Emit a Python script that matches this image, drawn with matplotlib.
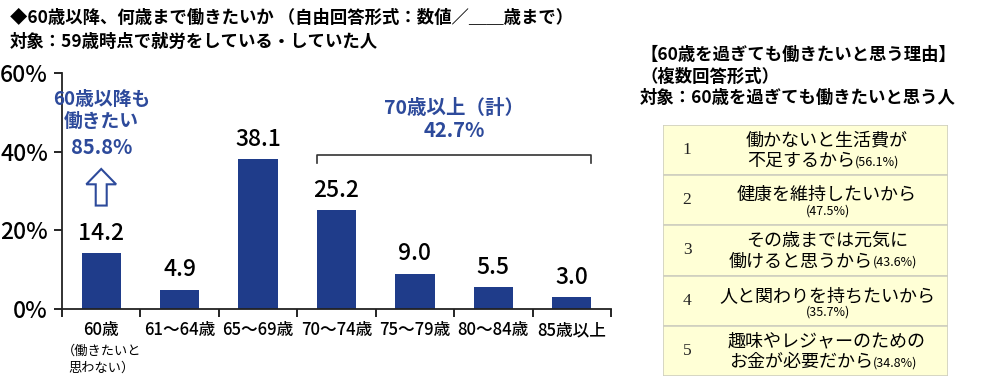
import matplotlib
matplotlib.use("Agg")
import matplotlib.pyplot as plt
from matplotlib.patches import Polygon, Rectangle
import numpy as np

plt.rcParams['font.family'] = ['Noto Sans CJK JP', 'DejaVu Sans']

# ---- data ----
categories = ["60歳", "61～64歳", "65～69歳", "70～74歳", "75～79歳", "80～84歳", "85歳以上"]
cat_sub = "（働きたいと\n思わない）"
values = [14.2, 4.9, 38.1, 25.2, 9.0, 5.5, 3.0]
yticks = [0, 20, 40, 60]
work_after60 = 85.8
over70_total = 42.7
reason_ranks = ["1", "2", "3", "4", "5"]
reason_main = [("働かないと生活費が", "不足するから"),
               ("健康を維持したいから", None),
               ("その歳までは元気に", "働けると思うから"),
               ("人と関わりを持ちたいから", None),
               ("趣味やレジャーのための", "お金が必要だから")]
reason_pct = [56.1, 47.5, 43.6, 35.7, 34.8]

BAR = "#1F3C8A"
BLUE = "#2D4A9B"
W, H = 1000, 387

fig = plt.figure(figsize=(10, 3.87), dpi=100)

def fx(px):
    return px / W

def fy(py):
    return 1 - py / H

# ---- bar chart ----
ax = fig.add_axes([fx(62), fy(309), fx(611) - fx(62), fy(73) - fy(309)])
x = np.arange(len(categories))
ax.bar(x, values, width=0.5, color=BAR)
ax.set_xlim(-0.5, len(categories) - 0.5)
ax.set_ylim(0, 60)
ax.set_yticks(yticks)
ax.set_yticklabels([f"{v}%" for v in yticks], fontsize=16.5, fontweight='medium')
ax.tick_params(axis='y', length=6, width=1.2, pad=4)
ax.set_xticks(x)
ax.set_xticklabels(categories, fontsize=12, fontweight='medium')
ax.tick_params(axis='x', which='major', length=0, pad=9)
ax.set_xticks(np.arange(-0.5, len(categories)), minor=True)
ax.tick_params(axis='x', which='minor', length=6, width=1.2)
for s in ['top', 'right']:
    ax.spines[s].set_visible(False)
for s in ['left', 'bottom']:
    ax.spines[s].set_linewidth(1.3)
    ax.spines[s].set_color("#222222")

for xi, v in zip(x, values):
    ax.annotate(f"{v:.1f}", (xi, v), xytext=(0, 6), textcoords='offset points',
                ha='center', va='bottom', fontsize=16.5, fontweight='medium')

ax.annotate(cat_sub, (0, 0), xytext=(0, -26), textcoords='offset points',
            ha='center', va='top', fontsize=9.5, linespacing=1.35)

# annotation: 60歳以降も働きたい
ax.text(0, 53.2, "60歳以降も", ha='center', va='center', fontsize=13.5,
        fontweight='bold', color=BLUE)
ax.text(0, 47.6, "働きたい", ha='center', va='center', fontsize=13.5,
        fontweight='bold', color=BLUE)
ax.text(0, 41.0, f"{work_after60}%", ha='center', va='center', fontsize=14.5,
        fontweight='bold', color=BLUE)
# hollow up arrow
sw, hw, hl = 0.07, 0.19, 3.9
yb, yt = 26.3, 35.6
arrow = Polygon([(-sw, yb), (sw, yb), (sw, yt - hl), (hw, yt - hl), (0, yt),
                 (-hw, yt - hl), (-sw, yt - hl)], closed=True,
                facecolor='white', edgecolor=BLUE, linewidth=1.5)
ax.add_patch(arrow)

# bracket 70歳以上
bx0, bx1, by, bd = 2.75, 6.25, 39.2, 2.0
ax.plot([bx0, bx0, bx1, bx1], [by - bd, by, by, by - bd], color="#333333", lw=1.2,
        clip_on=False)
ax.text((bx0 + bx1) / 2, 51.0, "70歳以上（計）", ha='center', va='center',
        fontsize=14, fontweight='bold', color=BLUE)
ax.text((bx0 + bx1) / 2, 45.4, f"{over70_total}%", ha='center', va='center',
        fontsize=14.5, fontweight='bold', color=BLUE)

# ---- titles ----
fig.text(fx(10), fy(18), "◆60歳以降、何歳まで働きたいか （自由回答形式：数値／＿＿歳まで）",
         ha='left', va='center', fontsize=12.5, fontweight='bold')
fig.text(fx(10), fy(42), "対象：59歳時点で就労をしている・していた人",
         ha='left', va='center', fontsize=12.5, fontweight='bold')

fig.text(fx(640), fy(55), "【60歳を過ぎても働きたいと思う理由】", ha='left', va='center',
         fontsize=12.5, fontweight='bold')
fig.text(fx(640), fy(77), "（複数回答形式）", ha='left', va='center',
         fontsize=12.5, fontweight='bold')
fig.text(fx(640), fy(98), "対象：60歳を過ぎても働きたいと思う人", ha='left', va='center',
         fontsize=12.5, fontweight='bold')

# ---- table ----
tx0, tx1, ty0, ty1 = 663, 948, 125, 376
tax = fig.add_axes([fx(tx0), fy(ty1), fx(tx1) - fx(tx0), fy(ty0) - fy(ty1)])
tax.set_xlim(tx0, tx1)
tax.set_ylim(ty1, ty0)
tax.axis('off')
n = len(reason_ranks)
rh = (ty1 - ty0) / n
for i in range(n):
    top = ty0 + i * rh
    tax.add_patch(Rectangle((tx0, top), tx1 - tx0, rh, facecolor="#FFFFD6",
                            edgecolor="#CFCFC0", linewidth=1.2))
    cy = top + rh / 2
    tax.text(687, cy, reason_ranks[i], ha='center', va='center', fontsize=12.5,
             family='Liberation Serif', color="#222222")
    l1, l2 = reason_main[i]
    pct = f"({reason_pct[i]}%)"
    if l2 is None:
        tax.text(827, cy - 5, l1, ha='center', va='center', fontsize=13)
        tax.text(828, cy + 11, pct, ha='center', va='center', fontsize=9)
    else:
        tax.text(827, cy - 10, l1, ha='center', va='center', fontsize=13)
        t2 = tax.text(801, cy + 11, l2, ha='center', va='center', fontsize=13)
        tax.annotate(pct, xy=(1.0, 0.45), xycoords=t2, xytext=(0, 0),
                     textcoords='offset points', ha='left', va='center', fontsize=9)

fig.savefig("out.png", dpi=100)
